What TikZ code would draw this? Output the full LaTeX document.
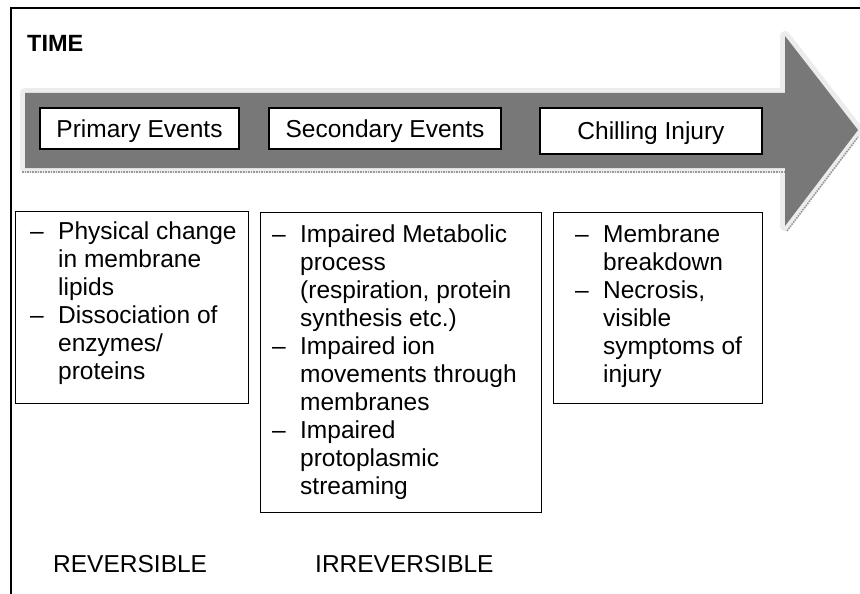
\documentclass[tikz,border=0pt]{standalone}
\usepackage{fontspec}
\setmainfont{Liberation Sans}
\definecolor{arrowgray}{RGB}{120,120,120}
\definecolor{halogray}{RGB}{236,236,236}
\newcommand\dashitem{\makebox[28pt][l]{–}}
\newcommand\contline{\hspace*{28pt}}
\begin{document}
\begin{tikzpicture}[x=1pt,y=-1pt,
  bigfont/.style={font=\fontsize{24.5}{28}\selectfont},
  hdr/.style={draw=black, line width=1.2pt, fill=white, inner sep=0pt,
    text height=17.5pt, text depth=0pt, bigfont},
  panel/.style={draw=black, line width=1.2pt, fill=white, anchor=north west, inner sep=0pt},
  bodytext/.style={anchor=north west, inner sep=0pt, align=left, bigfont},
  plain/.style={anchor=base west, inner sep=0pt, bigfont}]
\useasboundingbox (0,0) rectangle (860,594);
% frame
\draw[line width=1.5pt] (11,594) -- (11,8) -- (860,8);
% big arrow
\draw[halogray, line width=10pt, line join=round]
  (25,93) -- (785,93) -- (785,36) -- (858,130) -- (785,226) -- (785,168) -- (25,168) -- cycle;
\fill[arrowgray]
  (25,93) -- (785,93) -- (785,36) -- (858,130) -- (785,226) -- (785,168) -- (25,168) -- cycle;
\draw[densely dotted, line width=1.6pt, gray!80] (22,172) -- (785,172);
\draw[densely dotted, line width=1.6pt, gray!80] (787,231) -- (858,137);
% title
\node[anchor=base west, inner sep=0pt, font=\fontsize{23.5}{28}\selectfont\bfseries] (time) at (27,52) {TIME};
% header boxes
\node[hdr, minimum width=199pt, minimum height=41pt] (h1) at (139.5,128.5) {Primary Events};
\node[hdr, minimum width=232pt, minimum height=41pt] (h2) at (385,128.5) {Secondary Events};
\node[hdr, minimum width=222pt, minimum height=46pt] (h3) at (651,131) {Chilling Injury};
% panels
\node[panel, minimum width=233pt, minimum height=192pt] (p1) at (15,211) {};
\node[panel, minimum width=281pt, minimum height=300pt] (p2) at (260,212) {};
\node[panel, minimum width=209pt, minimum height=191pt] (p3) at (553,212) {};
\node[bodytext] (t1) at (30,222) {\dashitem Physical change\\ \contline in membrane\\ \contline lipids\\
  \dashitem Dissociation of\\ \contline enzymes/\\ \contline proteins};
\node[bodytext] (t2) at (272,225) {\dashitem Impaired Metabolic\\ \contline process\\ \contline (respiration, protein\\
  \contline synthesis etc.)\\ \dashitem Impaired ion\\ \contline movements through\\ \contline membranes\\
  \dashitem Impaired\\ \contline protoplasmic\\ \contline streaming};
\node[bodytext] (t3) at (575,225) {\dashitem Membrane\\ \contline breakdown\\ \dashitem Necrosis,\\
  \contline visible\\ \contline symptoms of\\ \contline injury};
% bottom labels
\node[plain] (rev) at (53,572) {REVERSIBLE};
\node[plain] (irr) at (315,572) {IRREVERSIBLE};
\end{tikzpicture}
\end{document}
